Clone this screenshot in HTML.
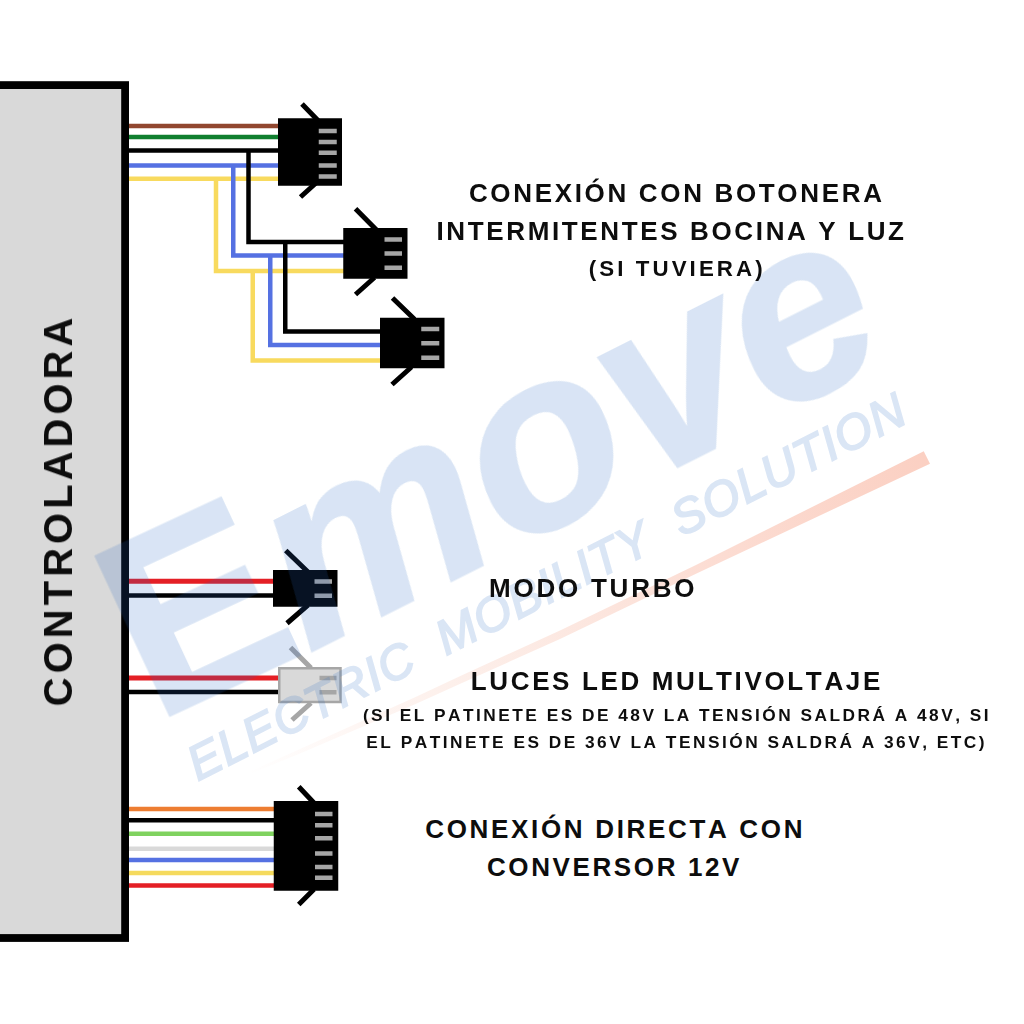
<!DOCTYPE html>
<html>
<head>
<meta charset="utf-8">
<style>
html,body{margin:0;padding:0;background:#fff;}
body{width:1024px;height:1024px;position:relative;overflow:hidden;font-family:"Liberation Sans",sans-serif;}
svg{position:absolute;left:0;top:0;}
.t{position:absolute;white-space:nowrap;font-kerning:none;font-weight:bold;color:#0d0d0d;text-align:center;line-height:1;}
.wm{position:absolute;white-space:nowrap;color:#d4e1f3;line-height:1;transform-origin:0 100%;}
</style>
</head>
<body>
<!-- watermark -->

<svg width="1024" height="1024" viewBox="0 0 1024 1024">
  <defs>
    <linearGradient id="sw" gradientUnits="userSpaceOnUse" x1="250" y1="782" x2="927" y2="457">
      <stop offset="0" stop-color="#f0501e" stop-opacity="0"/>
      <stop offset="0.28" stop-color="#e8602e" stop-opacity="0.09"/>
      <stop offset="0.66" stop-color="#f0501e" stop-opacity="0.19"/>
      <stop offset="1" stop-color="#f0501e" stop-opacity="0.27"/>
    </linearGradient>
  </defs>
  <!-- swoosh -->
  <polygon points="923.75,451.25 930,463.75 696,573.75 560,639 462.5,682.8 415.6,703.9 300,753.5 240,778 240,776 300,749 415.6,696.9 462.5,675 560,630.5 696,565" fill="url(#sw)"/>

  <!-- controller -->
  <rect x="-10" y="85.1" width="135.1" height="852.9" fill="#d9d9d9" stroke="#000" stroke-width="7.8"/>

  <!-- group 1 wires -->
  <g fill="none" stroke-width="4.5">
    <path d="M129 126H279" stroke="#91472f"/>
    <path d="M129 137H279" stroke="#107f2f"/>
    <path d="M129 178.75H279 M216 178.75V271H344 M252.75 271V360.5H381" stroke="#f8da5e"/>
    <path d="M129 165.5H279 M233.25 165.5V255.5H344 M270.25 255.5V345H381" stroke="#5571e2"/>
    <path d="M129 150.5H279 M248.5 150.5V242H344 M285.25 242V331.5H381" stroke="#000"/>
  </g>

  <!-- connector 1 -->
  <g>
    <path d="M302 104L318 120.6 M300.5 197L316 183" stroke="#000" stroke-width="5" fill="none"/>
    <rect x="278" y="118.25" width="64" height="67.5" fill="#000"/>
    <g fill="#a6a6a6">
      <rect x="318.75" y="128.75" width="18" height="4.5"/>
      <rect x="318.75" y="139.75" width="18" height="4.5"/>
      <rect x="318.75" y="150.5" width="18" height="4.5"/>
      <rect x="318.75" y="163.25" width="18" height="4.5"/>
      <rect x="318.75" y="174.25" width="18" height="4.5"/>
    </g>
  </g>

  <!-- connector 2 -->
  <g>
    <path d="M355.5 208.75L376.5 230 M355.5 294.5L374.5 277.5" stroke="#000" stroke-width="5" fill="none"/>
    <rect x="343.25" y="228" width="64.25" height="50.75" fill="#000"/>
    <g fill="#a6a6a6">
      <rect x="384.5" y="237.25" width="17.5" height="4.5"/>
      <rect x="384.5" y="251.25" width="17.5" height="4.5"/>
      <rect x="384.5" y="265.5" width="17.5" height="4.5"/>
    </g>
  </g>

  <!-- connector 3 -->
  <g>
    <path d="M392.5 298L414.5 319.2 M392 384.5L411.5 367" stroke="#000" stroke-width="5" fill="none"/>
    <rect x="380" y="317.75" width="64.5" height="50.5" fill="#000"/>
    <g fill="#a6a6a6">
      <rect x="421.25" y="326.75" width="18" height="4.5"/>
      <rect x="421.25" y="341" width="18" height="4.5"/>
      <rect x="421.25" y="355.5" width="18" height="4.5"/>
    </g>
  </g>

  <!-- turbo -->
  <g>
    <path d="M129 581.25H274" stroke="#e41f25" stroke-width="5" fill="none"/>
    <path d="M129 595.5H274" stroke="#000" stroke-width="4.5" fill="none"/>
    <path d="M285.75 550.5L308 572 M287 623.25L308 605" stroke="#000" stroke-width="5" fill="none"/>
    <rect x="273" y="570" width="64.5" height="36.75" fill="#000"/>
    <g fill="#a6a6a6">
      <rect x="314.5" y="579.25" width="17.5" height="4.5"/>
      <rect x="314.5" y="593.5" width="17.5" height="4.5"/>
    </g>
  </g>

  <!-- led -->
  <g>
    <path d="M129 678H279" stroke="#e41f25" stroke-width="5" fill="none"/>
    <path d="M129 692H279" stroke="#000" stroke-width="4.5" fill="none"/>
    <path d="M290.5 647.5L311 668 M292 720L311 703" stroke="#a6a6a6" stroke-width="5" fill="none"/>
    <rect x="279.25" y="668.25" width="61.25" height="33.75" fill="#d9d9d9" stroke="#a6a6a6" stroke-width="2.5"/>
    <g fill="#a6a6a6">
      <rect x="319.5" y="675.75" width="17" height="4.5"/>
      <rect x="319.5" y="690" width="17" height="4.5"/>
    </g>
  </g>

  <!-- 12v -->
  <g fill="none" stroke-width="4.5">
    <path d="M129 809H275" stroke="#ed7d31"/>
    <path d="M129 820.25H275" stroke="#000"/>
    <path d="M129 833.75H275" stroke="#7fd25f"/>
    <path d="M129 848.75H275" stroke="#d9d9d9"/>
    <path d="M129 860H275" stroke="#5571e2"/>
    <path d="M129 873H275" stroke="#f5da5d"/>
    <path d="M129 885.5H275" stroke="#e41f25"/>
  </g>
  <g>
    <path d="M298.75 786.75L314.5 803.5 M298.75 904.5L314 889.3" stroke="#000" stroke-width="5" fill="none"/>
    <rect x="273.75" y="801" width="64.5" height="89.75" fill="#000"/>
    <g fill="#a6a6a6">
      <rect x="315" y="811.75" width="17.5" height="4.5"/>
      <rect x="315" y="823" width="17.5" height="4.5"/>
      <rect x="315" y="836" width="17.5" height="4.5"/>
      <rect x="315" y="851.25" width="17.5" height="4.5"/>
      <rect x="315" y="864.75" width="17.5" height="4.5"/>
      <rect x="315" y="875.5" width="17.5" height="4.5"/>
    </g>
  </g>
</svg>

<!-- watermark overlay -->
<svg width="1024" height="1024" viewBox="0 0 1024 1024" style="pointer-events:none">
  <g fill="#2869c3" opacity="0.18" font-family="Liberation Sans, sans-serif">
    <text id="wm1" transform="translate(154.8 722.2) rotate(-25)" font-size="254" font-weight="bold" stroke="#2869c3" stroke-width="3" stroke-linejoin="miter">E</text>
    <text id="wm1b" transform="translate(308.5 652.5) rotate(-26.75)" font-size="251" font-weight="bold" font-style="italic" letter-spacing="1" stroke="#2869c3" stroke-width="3">move</text>
  </g>
  <g fill="#2869c3" stroke="#2869c3" stroke-width="1.8" opacity="0.17" font-family="Liberation Sans, sans-serif">
    <text id="wm2" transform="translate(197.7 781.3) rotate(-26.8)" font-size="48.4" font-style="italic" letter-spacing="1.16" word-spacing="15">ELECTRIC MOBILITY SOLUTION</text>
  </g>
</svg>

<!-- labels -->
<div class="t" id="ctl" style="left:58px;top:509.75px;font-size:40px;letter-spacing:4.02px;transform:translate(-50%,-50%) rotate(-90deg);">CONTROLADORA</div>

<div class="t" id="a1" style="left:468.93px;top:179.99px;font-size:26px;letter-spacing:2.666px;">CONEXIÓN CON BOTONERA</div>
<div class="t" id="a2" style="left:436.51px;top:217.99px;font-size:26px;letter-spacing:2.637px;">INTERMITENTES BOCINA Y LUZ</div>
<div class="t" id="a3" style="left:588.69px;top:257.52px;font-size:22.3px;letter-spacing:3.093px;">(SI TUVIERA)</div>
<div class="t" id="b1" style="left:488.96px;top:574.69px;font-size:26px;letter-spacing:2.777px;">MODO TURBO</div>
<div class="t" id="c1" style="left:470.76px;top:668.49px;font-size:26px;letter-spacing:2.648px;">LUCES LED MULTIVOLTAJE</div>
<div class="t" id="c2" style="left:362.89px;top:706.61px;font-size:17.3px;letter-spacing:2.486px;">(SI EL PATINETE ES DE 48V LA TENSIÓN SALDRÁ A 48V, SI</div>
<div class="t" id="c3" style="left:366.34px;top:734.11px;font-size:17.3px;letter-spacing:2.494px;">EL PATINETE ES DE 36V LA TENSIÓN SALDRÁ A 36V, ETC)</div>
<div class="t" id="d1" style="left:425.18px;top:815.99px;font-size:26px;letter-spacing:2.677px;">CONEXIÓN DIRECTA CON</div>
<div class="t" id="d2" style="left:486.93px;top:854.24px;font-size:26px;letter-spacing:2.619px;">CONVERSOR 12V</div>
</body>
</html>
